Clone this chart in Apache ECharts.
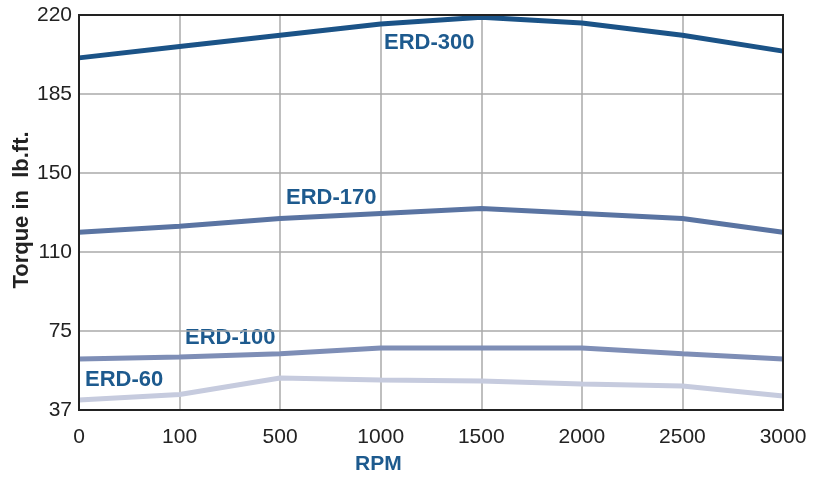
<!DOCTYPE html>
<html>
<head>
<meta charset="utf-8">
<script src="https://cdn.jsdelivr.net/npm/echarts@6/dist/echarts.min.js"></script>
<style>
html,body{margin:0;padding:0;background:#fff;}
#chart{width:819px;height:478px;}
</style>
</head>
<body>
<div id="chart"></div>
<script>
const rpm = ['0','100','500','1000','1500','2000','2500','3000'];
const yTicks = [37, 75, 110, 150, 185, 220];
const erd300 = [201, 206, 211, 216, 219, 216.5, 211, 204];
const erd170 = [120, 123, 127, 129.5, 132, 129.5, 127, 120];
const erd100 = [61.5, 62.5, 64, 66.8, 66.8, 66.8, 64, 61.5];
const erd60 = [41.8, 44.5, 52.4, 51.4, 51, 49.5, 48.5, 43.7];
const seriesNames = ['ERD-300', 'ERD-170', 'ERD-100', 'ERD-60'];

// The y axis has evenly spaced gridlines with uneven values: map piecewise.
function toLevel(v) {
  for (let i = 0; i < yTicks.length - 1; i++) {
    if (v <= yTicks[i + 1]) {
      return i + (v - yTicks[i]) / (yTicks[i + 1] - yTicks[i]);
    }
  }
  return yTicks.length - 1;
}

const colors = ['#1b5387', '#5a74a2', '#7e8eb6', '#c6cbde'];
const labelColor = '#1d5a8e';
const allData = [erd300, erd170, erd100, erd60];
const FF = 'Liberation Sans, Arial, sans-serif';
const labelFont = 'bold 22px ' + FF;

const chart = echarts.init(document.getElementById('chart'));
chart.setOption({
  animation: false,
  grid: { left: 79, right: 36, top: 15, bottom: 68, show: true, borderColor: '#222', borderWidth: 2, z: 5 },
  xAxis: {
    type: 'category', data: rpm, boundaryGap: false,
    axisLine: { show: false }, axisTick: { show: false },
    axisLabel: { color: '#222', fontSize: 21, fontFamily: FF, margin: 17 },
    splitLine: { show: true, lineStyle: { color: '#aaa', width: 1.5 } }
  },
  yAxis: {
    type: 'value', min: 0, max: 5, interval: 1,
    axisLine: { show: false }, axisTick: { show: false },
    axisLabel: { color: '#222', fontSize: 21, fontFamily: FF, margin: 7,
      formatter: v => yTicks[Math.round(v)] },
    splitLine: { show: true, lineStyle: { color: '#aaa', width: 1.5 } }
  },
  series: allData.map((d, i) => ({
    name: seriesNames[i], type: 'line', symbol: 'none', smooth: false,
    data: d.map(toLevel),
    lineStyle: { color: colors[i], width: 5 },
    z: 3
  })).reverse(),
  graphic: [
    { type: 'text', x: 384, y: 43, style: { text: 'ERD-300', fill: labelColor, font: labelFont, verticalAlign: 'middle' } },
    { type: 'text', x: 286, y: 198, style: { text: 'ERD-170', fill: labelColor, font: labelFont, verticalAlign: 'middle' } },
    { type: 'text', x: 185, y: 338, style: { text: 'ERD-100', fill: labelColor, font: labelFont, verticalAlign: 'middle' } },
    { type: 'text', x: 85, y: 380, style: { text: 'ERD-60', fill: labelColor, font: labelFont, verticalAlign: 'middle' } },
    { type: 'text', x: 355, y: 464, style: { text: 'RPM', fill: labelColor, font: 'bold 21px ' + FF, verticalAlign: 'middle' } },
    { type: 'text', x: 22, y: 210, rotation: Math.PI / 2,
      style: { text: 'Torque in  lb.ft.', fill: '#222', font: 'bold 22px ' + FF, align: 'center', verticalAlign: 'middle' } }
  ]
});
</script>
</body>
</html>
